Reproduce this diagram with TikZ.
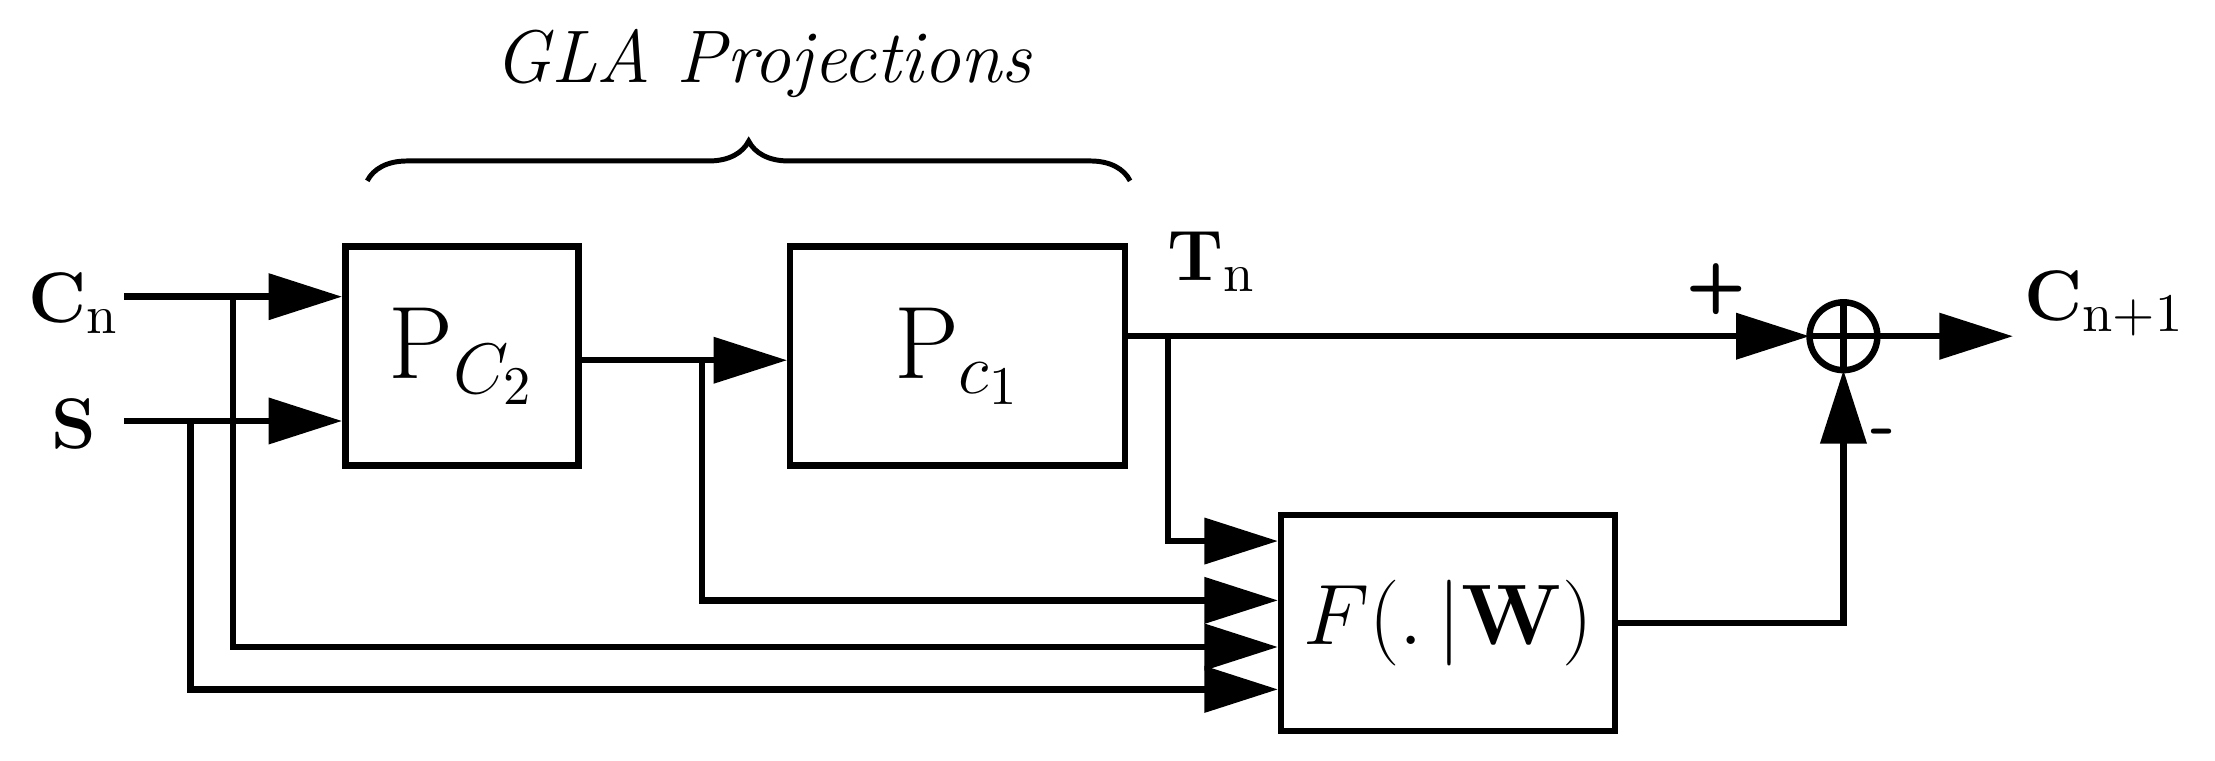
\documentclass[tikz,border=0pt]{standalone}
\usepackage{amsmath}
\usetikzlibrary{arrows.meta,positioning,decorations.pathreplacing}

\begin{document}
\begin{tikzpicture}[
  x=0.01cm, y=-0.01cm,
  > = {Triangle[length=0.52cm,width=0.32cm]},
  line width=1.3pt,
  blk/.style = {rectangle, draw, line width=1.3pt, inner sep=0pt},
  lbl/.style = {font=\fontsize{15}{18}\selectfont},
  sgn/.style = {font=\fontsize{14}{18}\selectfont\sffamily\bfseries}
]
\useasboundingbox (0,0) rectangle (1568,538);

% blocks
\node[blk, minimum width=1.65cm, minimum height=1.55cm] (pc2) at (327,252)
  {\fontsize{22}{26}\selectfont$\mathrm{P}_{C_2}$};
\node[blk, minimum width=2.37cm, minimum height=1.55cm] (pc1) at (678,252)
  {\fontsize{22}{26}\selectfont$\mathrm{P}_{c_1}$};
\node[blk, minimum width=2.36cm, minimum height=1.53cm] (F) at (1025,441)
  {\fontsize{18}{22}\selectfont$F(.\,|\mathbf{W})$};
\node[circle, draw, line width=1.3pt, minimum size=0.48cm, inner sep=0pt, outer sep=0pt] (sum) at (1305,238) {};
\draw (sum.north) -- (sum.south) (sum.west) -- (sum.east);

% labels
\node[lbl] (cn) at (52,215) {$\mathbf{C}_{\mathrm{n}}$};
\node[lbl] (s) at (52,300) {$\mathbf{S}$};
\node[lbl] (tn) at (858,185) {$\mathbf{T}_{\mathrm{n}}$};
\node[lbl] (cout) at (1490,215) {$\mathbf{C}_{\mathrm{n+1}}$};
\node[sgn] (plus) at (1215,205) {+};
\node[sgn] (minus) at (1333,310) {-};

\coordinate (cnin) at (88,210);
\coordinate (sin) at (88,298);
\coordinate (out) at (1425,238);

% inputs
\draw[->] (cnin) -- (pc2.west |- cnin);
\draw[->] (sin) -- (pc2.west |- sin);
\draw[->] (pc2.east |- 0,255) -- (pc1.west |- 0,255);
\draw[->] (pc1.east |- sum) -- (sum.west);
\draw[->] (sum.east) -- (out);
\draw[->] (F.east) -| (sum.south);

% feedback paths into F
\draw[->] (827,238) |- (F.west |- 0,383);
\draw[->] (497,255) |- (F.west |- 0,425);
\draw[->] (165,210) |- (F.west |- 0,458);
\draw[->] (135,298) |- (F.west |- 0,488);

% brace
\draw[line width=1pt, decorate, decoration={brace, amplitude=8pt}]
  (260,128) -- (800,128);
\node[font=\fontsize{15}{18}\selectfont\itshape] (gla) at (540,45) {GLA Projections};
\end{tikzpicture}
\end{document}
